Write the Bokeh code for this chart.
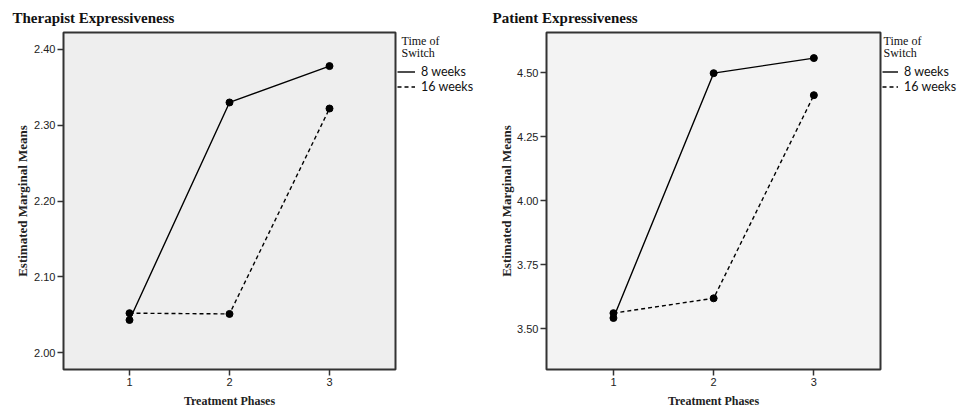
from bokeh.plotting import figure
from bokeh.layouts import row
from bokeh.models import FixedTicker, PrintfTickFormatter, Legend, LegendItem, Label, Range1d
from bokeh.embed import file_html
from bokeh.resources import INLINE

# ---- data ----
phases = [1, 2, 3]
therapist_8 = [2.043, 2.330, 2.378]
therapist_16 = [2.052, 2.051, 2.322]
patient_8 = [3.542, 4.499, 4.558]
patient_16 = [3.561, 3.619, 4.413]
therapist_yticks = [2.00, 2.10, 2.20, 2.30, 2.40]
patient_yticks = [3.50, 3.75, 4.00, 4.25, 4.50]
series_labels = ["8 weeks", "16 weeks"]
legend_title = ["Time of", "Switch"]
titles = ["Therapist Expressiveness", "Patient Expressiveness"]
x_label = "Treatment Phases"
y_label = "Estimated Marginal Means"

SERIF = "Liberation Serif"
SANS = "Liberation Sans"
H = 410
TOP = 31      # frame top (px from page top)
BOTTOM = 40   # space under the frame
SOLID = dict(line_color="black", line_width=1.4)
DASHED = dict(line_color="black", line_width=1.4, line_dash="4 3")


def make_panel(title, s8, s16, yticks, width, bl, xr, yr,
               title_offset, bg, ylabel_standoff):
    p = figure(width=width, height=H, output_backend="svg",
               toolbar_location=None, x_range=Range1d(*xr), y_range=Range1d(*yr),
               min_border_left=bl, min_border_right=2,
               min_border_top=TOP, min_border_bottom=BOTTOM)
    p.title.text = title
    p.title.align = "left"
    p.title.offset = title_offset
    p.title.text_font = SERIF
    p.title.text_font_style = "bold"
    p.title.text_font_size = "15px"
    p.title.text_color = "#111111"
    p.title.standoff = 14

    p.background_fill_color = bg
    p.border_fill_color = "white"
    p.outline_line_color = "#333333"
    p.outline_line_width = 2
    p.grid.visible = False

    for ax in (p.xaxis, p.yaxis):
        ax.axis_line_color = None
        ax.major_tick_line_color = "#333333"
        ax.major_tick_line_width = 1.5
        ax.major_tick_out = 6
        ax.major_tick_in = 0
        ax.minor_tick_line_color = None
        ax.major_label_text_font = SANS
        ax.major_label_text_font_size = "11px"
        ax.major_label_text_color = "#222222"
        ax.axis_label_text_font = SERIF
        ax.axis_label_text_font_style = "bold"
        ax.axis_label_text_color = "#222222"

    p.xaxis.axis_label_text_font_size = "12px"
    p.yaxis.axis_label_text_font_size = "13px"
    p.xaxis.ticker = FixedTicker(ticks=phases)
    p.yaxis.ticker = FixedTicker(ticks=yticks)
    p.yaxis.formatter = PrintfTickFormatter(format="%.2f")
    p.xaxis.axis_label = x_label
    p.yaxis.axis_label = y_label
    p.xaxis.major_label_standoff = 2
    p.yaxis.major_label_standoff = 2
    p.xaxis.axis_label_standoff = 5
    p.yaxis.axis_label_standoff = ylabel_standoff

    p.line(phases, s8, **SOLID)
    p.line(phases, s16, **DASHED)
    p.scatter(phases, s8, size=7, color="black")
    p.scatter(phases, s16, size=7, color="black")
    return p


def make_legend(width, s8, s16, glyph_w, standoff, font_size, title_x):
    q = figure(width=width, height=H, output_backend="svg", toolbar_location=None,
               title=None, x_range=Range1d(-2, -1), y_range=Range1d(-2, -1),
               min_border_left=0, min_border_right=0,
               min_border_top=TOP, min_border_bottom=BOTTOM)
    q.axis.visible = False
    q.grid.visible = False
    q.outline_line_color = None
    q.background_fill_color = "white"
    q.border_fill_color = "white"
    # series lines kept outside the visible range: they only feed the legend samples
    r8 = q.line(phases, s8, **SOLID)
    r16 = q.line(phases, s16, **DASHED)
    frame_bottom = H - BOTTOM
    legend = Legend(items=[LegendItem(label=series_labels[0], renderers=[r8]),
                           LegendItem(label=series_labels[1], renderers=[r16])],
                    location=(0, frame_bottom - 64.5 - 30), padding=0, margin=0, spacing=0,
                    glyph_width=glyph_w, glyph_height=15, label_height=15,
                    label_standoff=standoff,
                    border_line_color=None, background_fill_alpha=0,
                    label_text_font="Lato", label_text_font_size=font_size,
                    label_text_color="#111111")
    q.add_layout(legend)
    for i, t in enumerate(legend_title):
        q.add_layout(Label(x=title_x, y=frame_bottom - 41 - 12 * i,
                           x_units="screen", y_units="screen",
                           text=t, text_baseline="middle", text_font=SERIF,
                           text_font_size="12px", text_color="#111111"))
    return q


# left chart: frame x 63..395, y 31..370 on the page
p1 = make_panel(titles[0], therapist_8, therapist_16, therapist_yticks,
                397, 63, (0.34, 3.66), (1.9777, 2.4223), -51, "#eeeeee", 1)
l1 = make_legend(83, therapist_8, therapist_16, 18, 6, "12.5px", 4)
# right chart: frame x 546..880 on the page
p2 = make_panel(titles[1], patient_8, patient_16, patient_yticks,
                402, 66, (0.332, 3.665), (3.3407, 4.658), -54, "#f3f3f3", 0)
l2 = make_legend(77, patient_8, patient_16, 16, 6, "12.5px", 1)

layout = row(p1, l1, p2, l2)
open("out.html", "w").write(file_html(layout, INLINE))
